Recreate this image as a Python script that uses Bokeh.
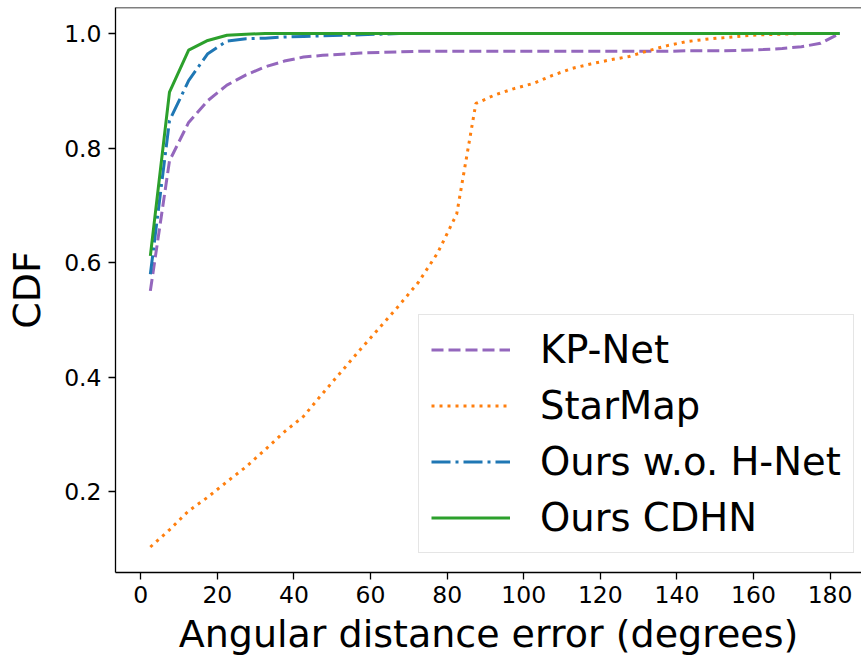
from bokeh.plotting import figure
from bokeh.models import Range1d, Legend, LegendItem, Span, FixedTicker
from bokeh.embed import file_html
from bokeh.resources import INLINE

# ---- data ----
angle = [2.5, 7.5, 12.5, 17.5, 22.5, 27.5, 32.5, 37.5, 42.5, 47.5, 52.5, 57.5, 62.5,
         67.5, 72.5, 77.5, 82.5, 87.5, 92.5, 97.5, 102.5, 107.5, 112.5, 117.5, 122.5,
         127.5, 132.5, 137.5, 142.5, 147.5, 152.5, 157.5, 162.5, 167.5, 172.5, 177.5, 182.5]

kp_net = [0.551, 0.778, 0.845, 0.883, 0.910, 0.928, 0.942, 0.952, 0.959, 0.962, 0.964,
          0.966, 0.967, 0.968, 0.969, 0.969, 0.969, 0.969, 0.969, 0.969, 0.969, 0.969,
          0.969, 0.969, 0.969, 0.969, 0.969, 0.969, 0.970, 0.970, 0.970, 0.971, 0.972,
          0.974, 0.977, 0.983, 1.000]

starmap = [0.104, 0.134, 0.167, 0.191, 0.218, 0.244, 0.274, 0.305, 0.332, 0.372, 0.411,
           0.450, 0.488, 0.526, 0.566, 0.617, 0.685, 0.878, 0.893, 0.904, 0.913, 0.927,
           0.939, 0.947, 0.954, 0.960, 0.970, 0.979, 0.986, 0.990, 0.993, 0.996, 0.998,
           0.999, 1.000, 1.000, 1.000]

ours_wo_hnet = [0.580, 0.848, 0.918, 0.965, 0.987, 0.991, 0.992, 0.994, 0.995, 0.996,
                0.997, 0.998, 0.999, 1.000, 1.000, 1.000, 1.000, 1.000, 1.000, 1.000,
                1.000, 1.000, 1.000, 1.000, 1.000, 1.000, 1.000, 1.000, 1.000, 1.000,
                1.000, 1.000, 1.000, 1.000, 1.000, 1.000, 1.000]

ours_cdhn = [0.612, 0.898, 0.971, 0.988, 0.997, 0.999, 1.000, 1.000, 1.000, 1.000,
             1.000, 1.000, 1.000, 1.000, 1.000, 1.000, 1.000, 1.000, 1.000, 1.000,
             1.000, 1.000, 1.000, 1.000, 1.000, 1.000, 1.000, 1.000, 1.000, 1.000,
             1.000, 1.000, 1.000, 1.000, 1.000, 1.000, 1.000]

series_names = ["KP-Net", "StarMap", "Ours w.o. H-Net", "Ours CDHN"]
x_ticks = [0, 20, 40, 60, 80, 100, 120, 140, 160, 180]
y_ticks = [0.2, 0.4, 0.6, 0.8, 1.0]

FONT = "DejaVu Sans"

p = figure(width=861, height=660, output_backend="svg", toolbar_location=None,
           x_range=Range1d(-6.6, 188.2), y_range=Range1d(0.0595, 1.0455),
           min_border_left=115, min_border_right=0, min_border_top=7,
           min_border_bottom=88)
p.background_fill_color = "white"
p.border_fill_color = "white"
p.outline_line_color = None
p.xgrid.visible = False
p.ygrid.visible = False

lw = 3
r1 = p.line(angle, kp_net, line_color="#9467bd", line_width=lw, line_dash="12 5")
r2 = p.line(angle, starmap, line_color="#ff7f0e", line_width=lw, line_dash="3 5")
r3 = p.line(angle, ours_wo_hnet, line_color="#1f77b4", line_width=lw, line_dash="19 5 3 5")
r4 = p.line(angle, ours_cdhn, line_color="#2ca02c", line_width=lw)

top_spine = Span(location=1.0455, dimension="width", line_color="black", line_width=1.3)
p.add_layout(top_spine)

for ax in (p.xaxis[0], p.yaxis[0]):
    ax.axis_line_color = "black"
    ax.axis_line_width = 1.3
    ax.major_tick_line_color = "black"
    ax.major_tick_line_width = 1.3
    ax.major_tick_out = 7
    ax.major_tick_in = 0
    ax.minor_tick_line_color = None
    ax.major_label_text_font = FONT
    ax.major_label_text_font_size = "23.5px"
    ax.major_label_text_color = "black"
    ax.axis_label_text_font = FONT
    ax.axis_label_text_font_size = "38px"
    ax.axis_label_text_font_style = "normal"
    ax.axis_label_text_color = "black"

p.xaxis[0].ticker = FixedTicker(ticks=x_ticks)
p.yaxis[0].ticker = FixedTicker(ticks=y_ticks)
p.yaxis[0].major_label_overrides = {t: f"{t:.1f}" for t in y_ticks}
p.xaxis[0].major_label_standoff = 6
p.yaxis[0].major_label_standoff = 7
p.xaxis[0].axis_label = "Angular distance error (degrees)"
p.yaxis[0].axis_label = "CDF"
p.xaxis[0].axis_label_standoff = 6
p.yaxis[0].axis_label_standoff = 12

legend = Legend(items=[LegendItem(label=n, renderers=[r]) for n, r in
                       zip(series_names, [r1, r2, r3, r4])],
                location=(303, 19), orientation="vertical")
legend.label_text_font = FONT
legend.label_text_font_size = "38.5px"
legend.label_text_color = "black"
legend.glyph_width = 79
legend.glyph_height = 45
legend.label_height = 45
legend.label_standoff = 30
legend.spacing = 11
legend.padding = 12
legend.margin = 0
legend.border_line_color = "#cccccc"
legend.border_line_width = 1.3
legend.background_fill_color = "white"
legend.background_fill_alpha = 0.8
p.add_layout(legend)

open("out.html", "w").write(file_html(p, INLINE))
